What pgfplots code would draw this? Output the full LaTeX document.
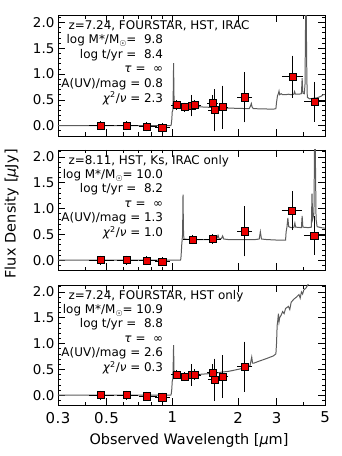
\documentclass[border=0pt]{standalone}
\usepackage{fontspec}
\setmainfont{DejaVu Sans}
\newfontfamily\yfont[LetterSpace=1]{DejaVu Sans}
\newfontfamily\xfont[LetterSpace=3]{DejaVu Sans}
\usepackage{pgfplots}
\pgfplotsset{compat=1.18}
\usepackage{pgfplotstable}

\definecolor{modelgray}{gray}{0.36}
\definecolor{ptred}{RGB}{235,0,0}
\newcommand\paneltext{\fontsize{12}{14.6}\selectfont}
\newcommand\ytickfont{\yfont\fontsize{13.5}{15}\selectfont}
\newcommand\xtickfont{\xfont\fontsize{15}{17}\selectfont}
\newcommand\xlabfont{\fontsize{14.5}{17}\selectfont}
\newcommand\ylabfont{\yfont\fontsize{14.5}{17}\selectfont}
\newcommand\Msun{M\raisebox{-0.45ex}{\fontsize{8}{8}\selectfont ☉}}

\newcommand\paneltxt[7]{%
  \begin{scope}[yshift=#1]
  \node[anchor=base west, inner sep=0, font=\paneltext] at (68.3bp,426.3bp) {#2};
  \node[anchor=base east, inner sep=0, font=\paneltext] at (163.3bp,412.3bp) {#3};
  \node[anchor=base east, inner sep=0, font=\paneltext] at (163.3bp,397.7bp) {#4};
  \node[anchor=base east, inner sep=0, font=\paneltext] at (163.3bp,383.1bp) {#5};
  \node[anchor=base east, inner sep=0, font=\paneltext] at (163.3bp,368.5bp) {#6};
  \node[anchor=base east, inner sep=0, font=\paneltext] at (163.3bp,353.9bp) {#7};
  \end{scope}}

\pgfplotstableread{
x     y      xm     xp     ey
0.47  0.00   0.040  0.055  0.03
0.62  0.00   0.045  0.055  0.03
0.765 -0.02  0.040  0.060  0.03
0.90  -0.04  0.035  0.045  0.03
1.05  0.40   0.030  0.030  0.03
1.14  0.36   0.030  0.030  0.03
1.23  0.39   0.065  0.085  0.15
1.27  0.40   0.030  0.030  0.04
1.53  0.44   0.040  0.040  0.10
1.56  0.30   0.050  0.050  0.35
1.70  0.36   0.050  0.050  0.36
2.15  0.55   0.100  0.100  0.43
3.55  0.95   0.270  0.280  0.35
4.49  0.46   0.350  0.360  0.33
}\dataA
\pgfplotstableread{
x     y      xm     xp     ey
0.47  0.00   0.040  0.055  0.03
0.62  0.00   0.045  0.055  0.03
0.765 -0.01  0.040  0.060  0.03
0.90  -0.03  0.035  0.045  0.03
1.24  0.40   0.085  0.100  0.03
1.53  0.41   0.090  0.090  0.03
2.15  0.56   0.100  0.100  0.43
3.53  0.96   0.260  0.280  0.32
4.47  0.48   0.340  0.360  0.32
}\dataB
\pgfplotstableread{
x     y      xm     xp     ey
0.47  0.00   0.040  0.055  0.03
0.62  0.00   0.045  0.055  0.03
0.765 -0.02  0.040  0.060  0.03
0.90  -0.04  0.035  0.045  0.03
1.05  0.40   0.030  0.030  0.03
1.14  0.36   0.030  0.030  0.03
1.23  0.39   0.065  0.085  0.15
1.27  0.40   0.030  0.030  0.04
1.53  0.44   0.040  0.040  0.10
1.56  0.30   0.050  0.050  0.35
1.70  0.36   0.050  0.050  0.36
2.15  0.55   0.100  0.100  0.43
}\dataC

\pgfplotsset{
  every axis/.append style={
    xmin=0.3, xmax=5, ymin=-0.2, ymax=2.135,
    width=267bp, height=120.5bp, scale only axis,
    axis line style={line width=0.9pt},
    tick style={black, line width=0.7pt},
    tick align=inside, xtick pos=both, ytick pos=both,
    major tick length=7bp, minor tick length=3.5bp,
    xtick={0.3,0.5,1,2,3,5},
    minor xtick={0.4,0.6,0.7,0.8,0.9,4},
    ytick={0,0.5,1,1.5,2},
    minor ytick={-0.1,0.1,0.2,0.3,0.4,0.6,0.7,0.8,0.9,1.1,1.2,1.3,1.4,1.6,1.7,1.8,1.9,2.1},
    yticklabel style={font=\ytickfont, /pgf/number format/fixed, /pgf/number format/fixed zerofill, /pgf/number format/precision=1, /pgf/number format/assume math mode=true},
    xticklabel style={font=\xtickfont, yshift=-3bp},
  },
}
\tikzset{
  model/.style={color=modelgray, line width=1pt},
}
\newcommand\datapts[1]{%
\addplot[only marks, mark=square*, mark size=3.6bp, mark options={fill=ptred, draw=black, line width=0.6pt}]
  table[x=x, y=y] {#1};
\addplot[only marks, mark=*, mark size=0pt,
  error bars/x dir=both, error bars/x explicit, error bars/y dir=both, error bars/y explicit,
  error bars/error bar style={black, line width=0.9pt},
  error bars/error mark options={black, mark size=3bp, line width=0.9pt}]
  table[x=x, y=y, x error minus=xm, x error plus=xp, y error=ey] {#1};}

\begin{document}
\begin{tikzpicture}
\useasboundingbox (0,0) rectangle (342bp,456bp);

% ---------------- Panel 1 ----------------
\begin{semilogxaxis}[at={(58bp,320bp)}, anchor=south west, xticklabels={}]
\addplot[model, mark=none] coordinates {
(0.3,0)(0.985,0)(0.99,0.03)(0.995,0.12)(1.0,0.27)(1.006,0.30)(1.010,0.6)(1.014,1.21)(1.018,0.6)(1.022,0.41)
(1.05,0.40)(1.1,0.39)(1.2,0.38)(1.3,0.37)(1.4,0.36)(1.5,0.355)(1.6,0.35)(1.7,0.345)(1.85,0.34)
(2.0,0.335)(2.25,0.33)(2.28,0.38)(2.30,0.43)(2.32,0.36)(2.35,0.33)(2.6,0.325)(2.9,0.32)(2.98,0.33)
(3.0,0.45)(3.03,0.58)(3.06,0.62)(3.08,0.67)(3.1,0.60)(3.15,0.62)(3.2,0.60)(3.3,0.60)(3.4,0.61)(3.5,0.60)
(3.6,0.61)(3.63,0.66)(3.66,0.61)(3.8,0.61)(3.9,0.62)(3.93,0.92)(3.96,0.63)(4.02,0.62)(4.05,0.8)(4.08,2.3)
(4.10,2.3)(4.13,0.9)(4.15,0.55)(4.25,0.52)(4.4,0.53)(4.6,0.54)(4.8,0.57)(4.9,0.60)(5.0,0.60)};
\datapts{\dataA}
\end{semilogxaxis}

% ---------------- Panel 2 ----------------
\begin{semilogxaxis}[at={(58bp,185.5bp)}, anchor=south west, xticklabels={}]
\addplot[model, mark=none] coordinates {
(0.3,0)(1.09,0)(1.095,0.03)(1.10,0.15)(1.105,0.30)(1.115,0.5)(1.12,1.27)(1.125,0.6)(1.13,0.41)
(1.2,0.40)(1.4,0.40)(1.55,0.40)(1.6,0.42)(1.62,0.48)(1.64,0.41)(1.68,0.42)(1.70,0.47)(1.72,0.41)
(1.8,0.40)(2.0,0.40)(2.4,0.40)(2.5,0.41)(2.53,0.55)(2.56,0.41)(2.7,0.40)(3.0,0.39)(3.3,0.39)
(3.32,0.55)(3.35,0.65)(3.38,0.82)(3.41,0.65)(3.45,0.64)(3.5,0.63)(3.6,0.63)(3.64,0.72)(3.67,0.64)
(3.9,0.63)(3.93,0.86)(3.96,0.64)(4.2,0.63)(4.33,0.64)(4.36,1.29)(4.39,0.8)(4.45,0.9)(4.48,2.3)
(4.51,2.3)(4.55,0.8)(4.6,0.65)(4.8,0.63)(5.0,0.62)};
\datapts{\dataB}
\end{semilogxaxis}

% ---------------- Panel 3 ----------------
\begin{semilogxaxis}[at={(58bp,50.5bp)}, anchor=south west, xticklabels={0.3,0.5,1,2,3,5}]
\addplot[model, mark=none] coordinates {
(0.3,0)(0.985,0)(0.99,0.03)(0.995,0.12)(1.0,0.27)(1.006,0.32)(1.010,0.6)(1.014,0.97)(1.018,0.5)(1.022,0.40)
(1.1,0.40)(1.2,0.40)(1.3,0.40)(1.4,0.41)(1.5,0.42)(1.6,0.43)(1.7,0.45)(1.8,0.46)(1.9,0.48)(2.0,0.50)
(2.1,0.52)(2.2,0.55)(2.27,0.57)(2.29,0.66)(2.31,0.74)(2.33,0.62)(2.36,0.62)(2.5,0.66)(2.7,0.71)(2.9,0.76)
(2.98,0.80)(3.0,1.0)(3.02,1.35)(3.04,1.45)(3.06,1.58)(3.08,1.42)(3.1,1.50)(3.15,1.55)(3.2,1.62)(3.25,1.58)
(3.3,1.68)(3.4,1.72)(3.45,1.66)(3.5,1.80)(3.6,1.86)(3.7,1.90)(3.8,1.95)(3.85,1.88)(3.9,2.00)(3.95,1.96)
(4.0,2.04)(4.1,2.08)(4.2,2.16)(4.4,2.3)(5.0,2.5)};
\datapts{\dataC}
\end{semilogxaxis}

\paneltxt{0bp}{z=7.24, FOURSTAR, HST, IRAC}
  {log M*/\Msun =\ \ 9.8}{log t/yr =\ \ 8.4}{\textit{τ} =\ \ ∞}{A(UV)/mag = 0.8}{\textit{χ}\textsuperscript{2}/\textit{ν} = 2.3}
\paneltxt{-134.5bp}{z=8.11, HST, Ks, IRAC only}
  {log M*/\Msun = 10.0}{log t/yr =\ \ 8.2}{\textit{τ} =\ \ ∞}{A(UV)/mag = 1.3}{\textit{χ}\textsuperscript{2}/\textit{ν} = 1.0}
\paneltxt{-269.5bp}{z=7.24, FOURSTAR, HST only}
  {log M*/\Msun = 10.9}{log t/yr =\ \ 8.8}{\textit{τ} =\ \ ∞}{A(UV)/mag = 2.6}{\textit{χ}\textsuperscript{2}/\textit{ν} = 0.3}

\node[rotate=90, font=\ylabfont] at (11.7bp,242bp) {Flux Density [\textit{μ}Jy]};
\node[font=\xlabfont] at (189bp,15bp) {Observed Wavelength [\textit{μ}m]};
\end{tikzpicture}
\end{document}
